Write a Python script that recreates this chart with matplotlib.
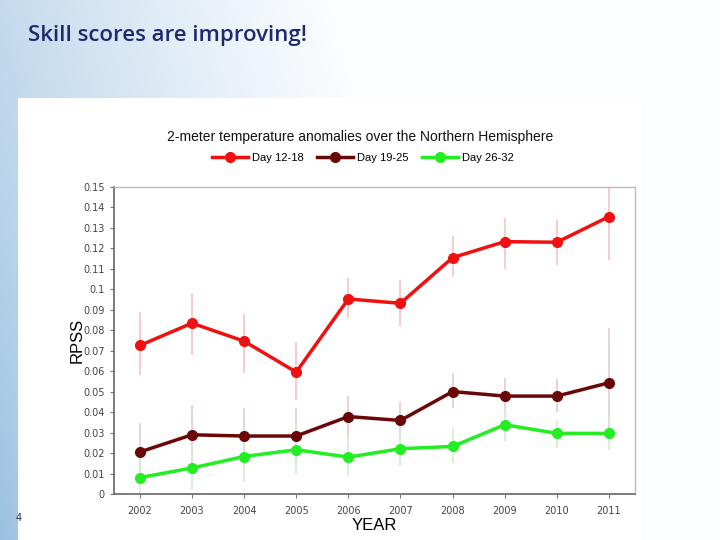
import numpy as np
import matplotlib
matplotlib.use('Agg')
import matplotlib.pyplot as plt
from matplotlib.patches import Rectangle
from matplotlib.ticker import FormatStrFormatter, MultipleLocator

# данные
years = [2002, 2003, 2004, 2005, 2006, 2007, 2008, 2009, 2010, 2011]

day_12_18 = [0.0725, 0.0834, 0.0746, 0.0595, 0.0952, 0.0931, 0.1154, 0.1232, 0.1229, 0.1354]
day_12_18_lo = [0.058, 0.068, 0.059, 0.046, 0.086, 0.082, 0.106, 0.110, 0.112, 0.114]
day_12_18_hi = [0.089, 0.098, 0.088, 0.074, 0.1055, 0.1045, 0.126, 0.1346, 0.1338, 0.150]

day_19_25 = [0.0205, 0.0289, 0.0283, 0.0283, 0.0378, 0.0359, 0.0500, 0.0478, 0.0478, 0.0543]
day_19_25_lo = [0.006, 0.014, 0.015, 0.015, 0.028, 0.027, 0.042, 0.039, 0.040, 0.028]
day_19_25_hi = [0.0346, 0.0435, 0.042, 0.042, 0.0476, 0.045, 0.059, 0.0566, 0.056, 0.081]

day_26_32 = [0.0080, 0.0127, 0.0183, 0.0216, 0.0180, 0.0221, 0.0232, 0.0338, 0.0296, 0.0296]
day_26_32_lo = [0.000, 0.002, 0.006, 0.010, 0.0086, 0.0134, 0.015, 0.026, 0.0226, 0.0216]
day_26_32_hi = [0.018, 0.024, 0.031, 0.034, 0.028, 0.031, 0.032, 0.042, 0.036, 0.038]

labels = ['Day 12-18', 'Day 19-25', 'Day 26-32']
slide_title = 'Skill scores are improving!'
chart_title = '2-meter temperature anomalies over the Northern Hemisphere'

# фигура
fig = plt.figure(figsize=(7.2, 5.4), dpi=100)

# фон слайда (небо): голубой слева внизу, светлеет вправо и вверх
bg = fig.add_axes([0, 0, 1, 1], zorder=-10)
xx, yy = np.meshgrid(np.linspace(0, 1, 200), np.linspace(1, 0, 150))
t = np.clip(1.5 * xx + 0.3 * yy, 0, 1) ** 0.7
c_blue = np.array([0.60, 0.75, 0.88])
c_white = np.array([0.99, 0.995, 1.0])
img = c_blue[None, None, :] * (1 - t[..., None]) + c_white[None, None, :] * t[..., None]
bg.imshow(img, extent=[0, 1, 0, 1], aspect='auto', origin='upper')
bg.set_xlim(0, 1), bg.set_ylim(0, 1)
bg.axis('off')

# белая панель
fig.patches.append(Rectangle((0.025, 0), 0.865, 0.8185, transform=fig.transFigure,
                             facecolor='white', edgecolor='none', zorder=-5))

fig.text(0.039, 0.935, slide_title, fontsize=16, fontweight='semibold', family='Open Sans',
         color='#1f2a6e', ha='left', va='center')
fig.text(0.022, 0.040, '4', fontsize=7, color='#1f2a6e', ha='left', va='center')

ax = fig.add_axes([0.158, 0.0852, 0.724, 0.569])

series = [
    (day_12_18, day_12_18_lo, day_12_18_hi, '#f01010', '#f4c4c4'),
    (day_19_25, day_19_25_lo, day_19_25_hi, '#6a0808', '#e3cccc'),
    (day_26_32, day_26_32_lo, day_26_32_hi, '#22ee22', '#d4ecd4'),
]
for (vals, lo, hi, color, ecolor), label in zip(series, labels):
    ax.vlines(years, lo, hi, colors=ecolor, linewidth=1.2, zorder=1)
    ax.plot(years, vals, '-o', color=color, linewidth=2.5, markersize=7, label=label, zorder=3)

ax.set_xlim(2001.5, 2011.5)
ax.set_ylim(0, 0.15)
ax.set_xticks(years)
ax.yaxis.set_major_locator(MultipleLocator(0.01))
ax.yaxis.set_major_formatter(FormatStrFormatter('%g'))
ax.tick_params(labelsize=7, labelcolor='#444444', color='#777777', length=3, width=0.8)
ax.tick_params(axis='x', pad=6)

for side in ('left', 'bottom'):
    ax.spines[side].set_color('#666666')
    ax.spines[side].set_linewidth(1.2)
for side in ('top', 'right'):
    ax.spines[side].set_color('#bbbbbb')
    ax.spines[side].set_linewidth(1.0)

ax.set_ylabel('RPSS', fontsize=12, family='Liberation Sans', labelpad=-1)
ax.set_xlabel('YEAR', fontsize=12, family='Liberation Sans', labelpad=1)

fig.text(0.5, 0.746, chart_title, fontsize=10, family='Liberation Sans',
         color='#111111', ha='center', va='center')
fig.legend(loc='center', bbox_to_anchor=(0.504, 0.707), ncol=3, frameon=False,
           handlelength=3.2, columnspacing=1.2, handletextpad=0.4,
           prop={'family': 'Liberation Sans', 'size': 8})

fig.savefig('out.png', dpi=100)
